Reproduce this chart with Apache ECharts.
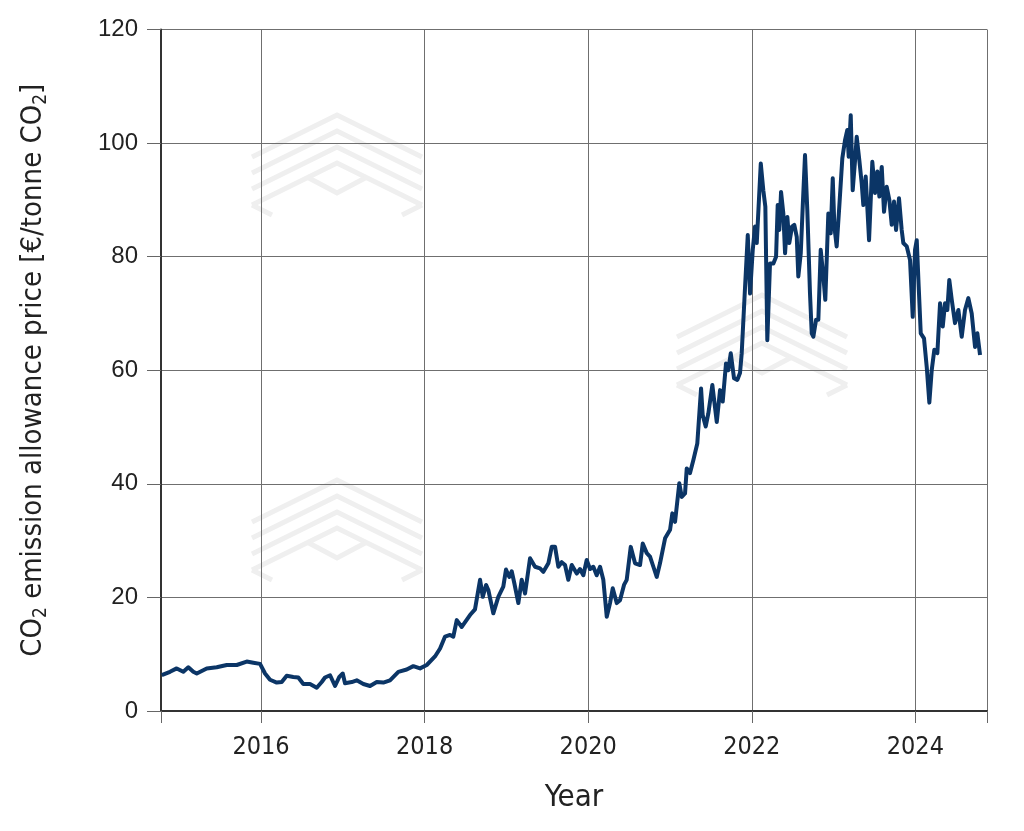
<!DOCTYPE html>
<html>
<head>
<meta charset="utf-8">
<script src="https://cdn.jsdelivr.net/npm/echarts@6/dist/echarts.min.js"></script>
<style>
html,body{margin:0;padding:0;background:#fff;}
#chart{width:1024px;height:831px;}
</style>
</head>
<body>
<div id="chart"></div>
<script>
// Time in decimal years
const years = [
2014.786,2014.887,2014.969,2015.050,2015.111,2015.172,2015.214,2015.336,2015.458,2015.581,
2015.703,2015.825,2015.906,2015.988,2016.049,2016.110,2016.192,2016.253,2016.314,2016.395,
2016.456,2016.517,2016.599,2016.681,2016.742,2016.782,2016.844,2016.905,2016.957,2016.999,
2017.027,2017.109,2017.170,2017.251,2017.333,2017.415,2017.495,2017.577,2017.679,2017.781,
2017.862,2017.944,2018.026,2018.127,2018.189,2018.250,2018.311,2018.351,2018.393,2018.454,
2018.555,2018.616,2018.678,2018.711,2018.751,2018.779,2018.840,2018.901,2018.962,2018.995,
2019.036,2019.065,2019.097,2019.146,2019.187,2019.228,2019.289,2019.350,2019.411,2019.452,
2019.513,2019.554,2019.595,2019.635,2019.676,2019.717,2019.757,2019.799,2019.860,2019.900,
2019.941,2019.982,2020.022,2020.063,2020.104,2020.145,2020.185,2020.227,2020.267,2020.300,
2020.349,2020.389,2020.438,2020.471,2020.520,2020.573,2020.634,2020.667,2020.716,2020.756,
2020.797,2020.838,2020.878,2020.940,2021.001,2021.029,2021.062,2021.114,2021.144,2021.184,
2021.205,2021.245,2021.286,2021.334,2021.380,2021.400,2021.437,2021.469,2021.518,2021.572,
2021.612,2021.645,2021.685,2021.713,2021.743,2021.783,2021.823,2021.856,2021.877,2021.918,
2021.951,2021.979,2022.012,2022.040,2022.061,2022.110,2022.141,2022.166,2022.190,2022.223,
2022.264,2022.297,2022.317,2022.337,2022.358,2022.386,2022.407,2022.435,2022.459,2022.492,
2022.520,2022.550,2022.569,2022.599,2022.623,2022.651,2022.679,2022.712,2022.733,2022.753,
2022.786,2022.814,2022.843,2022.875,2022.899,2022.936,2022.965,2022.990,2023.010,2023.038,
2023.070,2023.107,2023.140,2023.168,2023.185,2023.210,2023.234,2023.263,2023.283,2023.315,
2023.344,2023.364,2023.393,2023.434,2023.474,2023.507,2023.535,2023.560,2023.589,2023.617,
2023.650,2023.682,2023.711,2023.739,2023.764,2023.800,2023.833,2023.853,2023.895,2023.935,
2023.968,2023.996,2024.017,2024.041,2024.066,2024.106,2024.139,2024.171,2024.200,2024.232,
2024.269,2024.302,2024.335,2024.363,2024.391,2024.415,2024.445,2024.485,2024.526,2024.567,
2024.607,2024.648,2024.689,2024.730,2024.758,2024.791
];
// CO2 emission allowance price, EUR / tonne CO2
const prices = [
6.3,6.9,7.5,6.9,7.7,6.9,6.6,7.5,7.7,8.1,
8.1,8.7,8.5,8.3,6.6,5.5,5.0,5.1,6.2,6.0,
5.9,4.75,4.75,4.1,5.1,5.9,6.3,4.4,6.0,6.6,
4.9,5.1,5.4,4.75,4.4,5.1,5.0,5.4,6.9,7.3,
7.9,7.5,8.1,9.6,11.0,13.1,13.4,13.1,16.0,14.8,
16.9,17.9,23.1,20.1,22.2,21.3,17.2,20.1,21.9,24.9,
23.6,24.6,22.5,19.0,23.1,20.7,26.9,25.4,25.1,24.5,
26.0,28.9,28.9,25.4,26.2,25.7,23.1,25.7,24.2,25.0,
23.9,26.6,25.0,25.4,23.9,25.4,23.1,16.6,19.0,21.6,
19.0,19.5,22.2,23.1,28.9,26.0,25.7,29.5,27.8,27.2,
25.4,23.6,26.0,30.4,31.9,34.8,33.3,40.1,37.7,38.3,
42.7,41.9,44.2,47.1,56.8,52.1,50.1,52.4,57.4,50.9,
56.5,54.5,61.2,60.0,63.0,58.6,58.3,59.5,63.0,74.7,
83.8,73.5,81.2,85.3,82.4,96.4,91.7,88.8,65.3,78.8,
78.8,80.0,89.1,84.7,91.4,87.6,80.6,87.0,82.4,85.3,
85.6,83.5,76.5,80.6,88.8,97.9,88.2,73.5,66.5,65.9,
68.9,68.9,81.2,76.5,72.4,87.6,84.1,93.8,85.3,81.8,
88.8,97.3,100.5,102.3,97.6,104.9,91.7,97.0,101.1,97.0,
92.9,89.1,94.1,82.9,96.7,91.2,95.0,90.6,95.8,87.9,
92.3,90.0,85.6,89.7,84.7,90.3,84.7,82.4,81.8,79.4,
69.4,81.2,82.9,74.7,66.5,65.6,60.6,54.3,60.0,63.6,
63.0,71.8,67.7,71.8,70.6,75.9,72.4,68.3,70.6,65.9,
70.6,72.7,70.0,64.1,66.5,62.7
];
const xTickLabels = [2016, 2018, 2020, 2022, 2024];
const xMin = 2014.777, xMax = 2024.876;

const seriesData = years.map((y, i) => [y, prices[i]]);

// light watermark logos (decorative)
function logo(x0, y0) {
  const els = [];
  const st = {stroke: '#efefef', lineWidth: 5, fill: null};
  for (let k = 0; k < 4; k++) {
    els.push({type: 'polyline', silent: true, z: -10,
      shape: {points: [[x0, y0 + 42 + k * 16], [x0 + 85, y0 + k * 16], [x0 + 170, y0 + 42 + k * 16]]},
      style: st});
  }
  els.push({type: 'polyline', silent: true, z: -10,
    shape: {points: [[x0, y0 + 90], [x0 + 20, y0 + 100]]}, style: st});
  els.push({type: 'polyline', silent: true, z: -10,
    shape: {points: [[x0 + 150, y0 + 100], [x0 + 170, y0 + 90]]}, style: st});
  els.push({type: 'polyline', silent: true, z: -10,
    shape: {points: [[x0 + 55, y0 + 62], [x0 + 85, y0 + 78], [x0 + 115, y0 + 62]]}, style: st});
  return els;
}

const chart = echarts.init(document.getElementById('chart'), null, {renderer: 'canvas'});
const narrow = '"Liberation Sans Narrow", "DejaVu Sans Condensed", "Liberation Sans", sans-serif';
chart.setOption({
  animation: false,
  backgroundColor: '#ffffff',
  graphic: [].concat(logo(252, 115), logo(252, 480), logo(677, 295)),
  grid: {left: 161, right: 37, top: 29.5, bottom: 120, containLabel: false},
  xAxis: {
    type: 'value',
    min: xMin, max: xMax,
    name: 'Year',
    nameLocation: 'middle',
    nameGap: 71,
    nameTextStyle: {fontFamily: narrow, fontSize: 31, color: '#222'},
    axisLine: {show: true, onZero: false, lineStyle: {color: '#333', width: 2}},
    axisTick: {show: true, length: 12, customValues: [xMin].concat(xTickLabels, [xMax]), lineStyle: {color: '#666', width: 1}},
    axisLabel: {customValues: xTickLabels, margin: 24, fontFamily: narrow, fontSize: 25, color: '#222',
      formatter: v => String(Math.round(v))},
    splitLine: {show: true, lineStyle: {color: '#6f6f6f', width: 1}},
    minorTick: {show: false}
  },
  yAxis: {
    type: 'value',
    min: 0, max: 120, interval: 20,
    name: '{a|CO}{s|2}{a| emission allowance price [€/tonne CO}{s|2}{a|]}',
    nameLocation: 'middle',
    nameGap: 110,
    nameRotate: 90,
    nameTextStyle: {
      fontFamily: narrow, fontSize: 29, color: '#222',
      rich: {
        a: {fontFamily: narrow, fontSize: 29, color: '#222', lineHeight: 36},
        s: {fontFamily: narrow, fontSize: 19, color: '#222', lineHeight: 36, verticalAlign: 'bottom', padding: [14, 0, 0, 0]}
      }
    },
    axisLine: {show: true, lineStyle: {color: '#333', width: 2}},
    axisTick: {show: true, length: 14, lineStyle: {color: '#666', width: 1}},
    axisLabel: {margin: 23, fontFamily: '"Liberation Sans", Arial, sans-serif', fontSize: 24, color: '#222'},
    splitLine: {show: true, lineStyle: {color: '#6f6f6f', width: 1}}
  },
  series: [{
    type: 'line',
    data: seriesData,
    showSymbol: false,
    symbol: 'none',
    lineStyle: {color: '#0b3566', width: 4, join: 'round'},
    z: 5
  }]
});
</script>
</body>
</html>
